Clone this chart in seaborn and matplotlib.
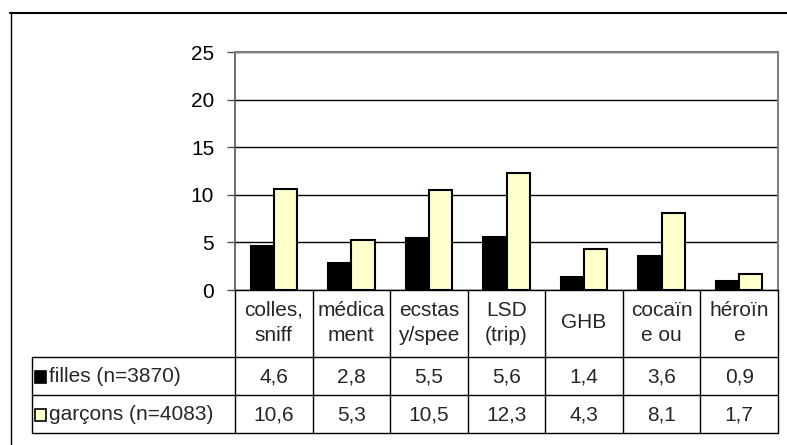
import numpy as np
import pandas as pd
import matplotlib
matplotlib.use('Agg')
import matplotlib.pyplot as plt
from matplotlib.lines import Line2D
from matplotlib.patches import Rectangle
import seaborn as sns

# data
categories = ['colles,\nsniff', 'médica\nment', 'ecstas\ny/spee', 'LSD\n(trip)',
              'GHB', 'cocaïn\ne ou', 'héroïn\ne']
series = ['filles (n=3870)', 'garçons (n=4083)']
filles = [4.6, 2.8, 5.5, 5.6, 1.4, 3.6, 0.9]
garcons = [10.6, 5.3, 10.5, 12.3, 4.3, 8.1, 1.7]
colors = ['#000000', '#FFFFCC']

df = pd.DataFrame({
    'cat': categories * 2,
    'serie': [series[0]] * 7 + [series[1]] * 7,
    'val': filles + garcons,
})

sns.set_style('white')
plt.rcParams['font.family'] = ['Liberation Sans', 'DejaVu Sans']
FS = 15

W, H = 787, 445
fig = plt.figure(figsize=(W / 100, H / 100), dpi=100)
# plot area in pixels: x 235..778, y 52..290
ax = fig.add_axes([235 / W, 1 - 290 / H, (778 - 235) / W, (290 - 52) / H])

sns.barplot(data=df, x='cat', y='val', hue='serie', palette=colors,
            width=0.6, edgecolor='black', linewidth=1.5, legend=False, ax=ax,
            saturation=1)

ax.set_ylim(0, 25)
ax.set_xlim(-0.5, 6.5)
ax.set_yticks(range(0, 26, 5))
ax.set_xticks([])
ax.set_xlabel('')
ax.set_ylabel('')
ax.yaxis.grid(True, color='black', lw=1)
ax.set_axisbelow(True)
ax.tick_params(axis='y', left=True, length=6, width=1, color='#555555',
               labelsize=FS, pad=9, labelcolor='black')
for s in ['top', 'right']:
    ax.spines[s].set_color('#808080')
    ax.spines[s].set_linewidth(1.5)
ax.spines['left'].set_color('#555555')
ax.spines['left'].set_linewidth(1.2)
ax.spines['bottom'].set_color('black')
ax.spines['bottom'].set_linewidth(1)


# data table below the plot, drawn in pixel coordinates
def fx(px):
    return px / W


def fy(py):
    return 1 - py / H


x0, x1 = 235, 778
cw = (x1 - x0) / 7
rows = [290, 357, 395, 433]
lc = dict(color='black', lw=1)

# vertical lines
for i in range(8):
    xp = x0 + i * cw
    fig.add_artist(Line2D([fx(xp), fx(xp)], [fy(290), fy(433)], **lc))
fig.add_artist(Line2D([fx(32), fx(32)], [fy(357), fy(433)], **lc))
# horizontal lines
for yp in rows[1:]:
    fig.add_artist(Line2D([fx(32), fx(x1)], [fy(yp), fy(yp)], **lc))

# category headers
for i, c in enumerate(categories):
    fig.text(fx(x0 + (i + 0.5) * cw), fy(323), c, ha='center', va='center',
             fontsize=FS, linespacing=1.4)

# values
for r, vals in enumerate([filles, garcons]):
    yc = (rows[r + 1] + rows[r + 2]) / 2
    for i, v in enumerate(vals):
        fig.text(fx(x0 + (i + 0.5) * cw), fy(yc + 1), f'{v:.1f}'.replace('.', ','),
                 ha='center', va='center', fontsize=FS)
    # legend key + series label
    fig.add_artist(Rectangle((fx(35), fy(yc + 7)), 11 / W, 12 / H,
                             facecolor=colors[r], edgecolor='black', lw=1.2))
    fig.text(fx(49), fy(yc + 1), series[r], ha='left', va='center', fontsize=FS)

# outer chart frame
fig.add_artist(Line2D([fx(10), fx(787)], [fy(12.5), fy(12.5)], color='black', lw=1.5))
fig.add_artist(Line2D([fx(10.5), fx(10.5)], [fy(12), fy(445)], color='black', lw=1))

fig.savefig('out.png', dpi=100, facecolor='white')
